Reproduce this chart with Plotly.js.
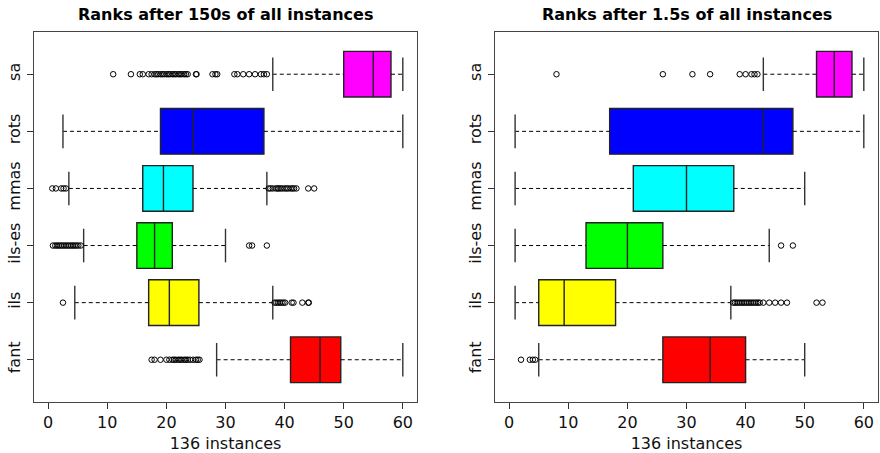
<!DOCTYPE html>
<html>
<head>
<meta charset="utf-8">
<script src="https://cdn.plot.ly/plotly-3.0.1.min.js"></script>
<style>html,body{margin:0;padding:0;background:#fff;}#chart{width:880px;height:453px;}</style>
</head>
<body>
<div id="chart"></div>
<script>
// categories bottom to top
var categories = ["fant", "ils", "ils-es", "mmas", "rots", "sa"];
var boxColors = ["#FF0000", "#FFFF00", "#00FF00", "#00FFFF", "#0000FF", "#FF00FF"];
var xTicks = [0, 10, 20, 30, 40, 50, 60];

// Panel 1: ranks after 150s
var low150 = [28.5, 4.5, 6, 3.5, 2.5, 38];
var q1_150 = [41, 17, 15, 16, 19, 50];
var med150 = [46, 20.5, 18, 19.5, 24.5, 55];
var q3_150 = [49.5, 25.5, 21, 24.5, 36.5, 58];
var high150 = [60, 38, 30, 37, 60, 60];
var out150Fant = [17.5, 18, 19, 20, 20.5, 21, 21.3, 21.6, 22, 22.3, 22.6, 23, 23.3, 23.6, 24, 24.5, 25, 25.3, 25.6];
var out150Ils = [2.5, 38.3, 38.6, 38.9, 39.2, 39.5, 39.8, 40.1, 41.2, 41.5, 43, 44, 44.1];
var out150IlsEs = [0.8, 1.2, 1.5, 1.8, 2.1, 2.4, 2.7, 3, 3.3, 3.6, 3.9, 4.2, 4.5, 4.8, 5.1, 5.5, 34, 34.5, 37];
var out150Mmas = [0.7, 1.3, 2.2, 2.6, 3, 37.3, 37.6, 38, 38.5, 38.8, 39, 39.3, 39.6, 40, 40.3, 40.6, 41, 41.3, 41.6, 42, 44, 45];
var out150Rots = [];
var out150Sa = [11, 14, 15.5, 16, 17, 17.5, 18, 18.3, 18.6, 19, 19.3, 19.6, 20, 20.3, 20.6, 21, 21.3, 21.6, 22, 22.3, 22.6, 23, 23.3, 23.6, 25, 25.1, 27.8, 28.3, 28.6, 31.5, 32, 33, 34, 35, 36, 36.5, 37];

// Panel 2: ranks after 1.5s
var low15 = [5, 1, 1, 1, 1, 43];
var q1_15 = [26, 5, 13, 21, 17, 52];
var med15 = [34, 9.3, 20, 30, 43, 55];
var q3_15 = [40, 18, 26, 38, 48, 58];
var high15 = [50, 37.5, 44, 50, 60, 60];
var out15Fant = [2, 3.5, 4, 4.4];
var out15Ils = [37.9, 38.2, 38.5, 38.8, 39.1, 39.4, 39.7, 40, 40.3, 40.6, 40.9, 41.2, 41.5, 41.8, 42.1, 42.4, 43, 44, 45, 46, 47, 52, 53];
var out15IlsEs = [46, 48];
var out15Mmas = [];
var out15Rots = [];
var out15Sa = [8, 26, 31, 34, 39, 40, 41, 41.5, 42];

var titles = ["Ranks after 150s of all instances", "Ranks after 1.5s of all instances"];
var xTitle = "136 instances";

var FONT = "DejaVu Sans, Arial, sans-serif";
var EDGE = "#222";

function panelTraces(low, q1, med, q3, high, outs, xa, ya) {
  var tr = [];
  // dashed whiskers
  var wx = [], wy = [];
  for (var i = 0; i < categories.length; i++) {
    wx.push(low[i], q1[i], null, q3[i], high[i], null);
    wy.push(categories[i], categories[i], null, categories[i], categories[i], null);
  }
  tr.push({type: "scatter", mode: "lines", x: wx, y: wy, xaxis: xa, yaxis: ya,
    line: {color: "#000", width: 1, dash: "4px,3px"}, hoverinfo: "skip", showlegend: false});
  // staples
  var sx = [], sy = [];
  for (var j = 0; j < categories.length; j++) {
    sx.push(low[j], high[j]);
    sy.push(categories[j], categories[j]);
  }
  tr.push({type: "scatter", mode: "markers", x: sx, y: sy, xaxis: xa, yaxis: ya,
    marker: {symbol: "line-ns", size: 24, line: {color: "#333", width: 1.4}},
    hoverinfo: "skip", showlegend: false});
  // boxes
  for (var k = 0; k < categories.length; k++) {
    tr.push({type: "box", orientation: "h", y: [categories[k]],
      q1: [q1[k]], median: [med[k]], q3: [q3[k]],
      lowerfence: [q1[k]], upperfence: [q3[k]],
      width: 0.8, whiskerwidth: 0, fillcolor: boxColors[k],
      line: {color: EDGE, width: 1.4}, xaxis: xa, yaxis: ya,
      boxpoints: false, showlegend: false, hoverinfo: "x"});
  }
  // outliers
  var ox = [], oy = [];
  for (var m = 0; m < categories.length; m++) {
    for (var n = 0; n < outs[m].length; n++) {
      ox.push(outs[m][n]);
      oy.push(categories[m]);
    }
  }
  tr.push({type: "scatter", mode: "markers", x: ox, y: oy, xaxis: xa, yaxis: ya,
    marker: {symbol: "circle-open", size: 5.5, color: "#000", line: {color: "#000", width: 1}},
    hoverinfo: "x", showlegend: false});
  return tr;
}

var data = [].concat(
  panelTraces(low150, q1_150, med150, q3_150, high150,
    [out150Fant, out150Ils, out150IlsEs, out150Mmas, out150Rots, out150Sa], "x", "y"),
  panelTraces(low15, q1_15, med15, q3_15, high15,
    [out15Fant, out15Ils, out15IlsEs, out15Mmas, out15Rots, out15Sa], "x2", "y2")
);

function xAxis(domain, anchor) {
  return {domain: domain, anchor: anchor, range: [-2.4, 62.4], tickvals: xTicks,
    ticks: "outside", ticklen: 6, tickwidth: 1, tickcolor: "#333",
    showline: true, mirror: true, linecolor: "#444", linewidth: 1.3,
    showgrid: false, zeroline: false,
    tickfont: {family: FONT, size: 16, color: "#111"},
    title: {text: xTitle, font: {family: FONT, size: 16, color: "#111"}, standoff: 12}};
}
function yAxis(anchor) {
  return {domain: [0.1126, 0.9294], anchor: anchor, type: "category",
    categoryorder: "array", categoryarray: categories, range: [-0.74, 5.74],
    ticks: "outside", ticklen: 6, tickwidth: 1, tickcolor: "#333", tickangle: -90,
    showline: true, mirror: true, linecolor: "#444", linewidth: 1.3,
    showgrid: false, zeroline: false,
    tickfont: {family: FONT, size: 16, color: "#111"}};
}

var layout = {
  width: 880, height: 453,
  margin: {l: 0, r: 0, t: 0, b: 0},
  paper_bgcolor: "#fff", plot_bgcolor: "#fff",
  boxmode: "overlay",
  showlegend: false,
  xaxis: xAxis([34/880, 417/880], "y"),
  yaxis: yAxis("x"),
  xaxis2: xAxis([495/880, 878/880], "y2"),
  yaxis2: yAxis("x2"),
  annotations: [
    {text: "<b>" + titles[0] + "</b>", x: (34+417)/2/880, y: 1 - 14/453, xref: "paper", yref: "paper",
     xanchor: "center", yanchor: "middle", showarrow: false, font: {family: FONT, size: 16, color: "#000"}},
    {text: "<b>" + titles[1] + "</b>", x: (495+878)/2/880, y: 1 - 14/453, xref: "paper", yref: "paper",
     xanchor: "center", yanchor: "middle", showarrow: false, font: {family: FONT, size: 16, color: "#000"}}
  ]
};

Plotly.newPlot("chart", data, layout, {displayModeBar: false, staticPlot: true});
</script>
</body>
</html>
